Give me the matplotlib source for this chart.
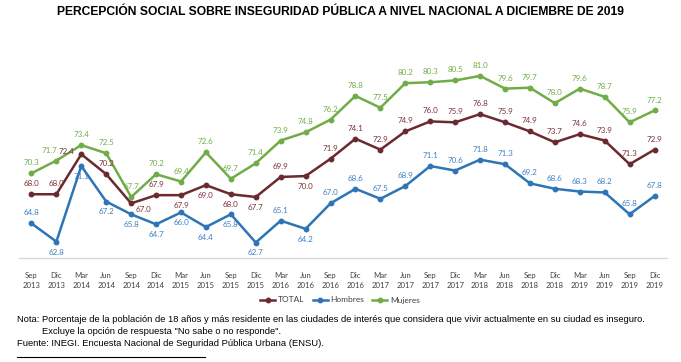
import matplotlib.pyplot as plt
from matplotlib.lines import Line2D

SANS = "Liberation Sans"
LABF = "Lato"

periodos = ["Sep\n2013", "Dic\n2013", "Mar\n2014", "Jun\n2014", "Sep\n2014", "Dic\n2014",
            "Mar\n2015", "Jun\n2015", "Sep\n2015", "Dic\n2015", "Mar\n2016", "Jun\n2016",
            "Sep\n2016", "Dic\n2016", "Mar\n2017", "Jun\n2017", "Sep\n2017", "Dic\n2017",
            "Mar\n2018", "Jun\n2018", "Sep\n2018", "Dic\n2018", "Mar\n2019", "Jun\n2019",
            "Sep\n2019", "Dic\n2019"]
total = [68.0, 68.0, 72.4, 70.2, 67.0, 67.9, 67.9, 69.0, 68.0, 67.7, 69.9, 70.0, 71.9,
         74.1, 72.9, 74.9, 76.0, 75.9, 76.8, 75.9, 74.9, 73.7, 74.6, 73.9, 71.3, 72.9]
hombres = [64.8, 62.8, 71.1, 67.2, 65.8, 64.7, 66.0, 64.4, 65.8, 62.7, 65.1, 64.2, 67.0,
           68.6, 67.5, 68.9, 71.1, 70.6, 71.8, 71.3, 69.2, 68.6, 68.3, 68.2, 65.8, 67.8]
mujeres = [70.3, 71.7, 73.4, 72.5, 67.7, 70.2, 69.4, 72.6, 69.7, 71.4, 73.9, 74.8, 76.2,
           78.8, 77.5, 80.2, 80.3, 80.5, 81.0, 79.6, 79.7, 78.0, 79.6, 78.7, 75.9, 77.2]

# label placement: a=above, A=above shifted left, b=below, l=left, d=below right
pos_total = list("aaladabbbbabaaaaaaaaaaaaaa")
pos_hombres = list("abbbbbbbbbabaaaaaaaaaaaaaa")
pos_mujeres = list("aAaaaaaaaaaaaaaaaaaaaaaaaa")

series = [
    ("TOTAL", total, "#6B2A2E", "#7A3236", pos_total),
    ("Hombres", hombres, "#2E75B6", "#3E80C6", pos_hombres),
    ("Mujeres", mujeres, "#70AD47", "#70AD47", pos_mujeres),
]

offs = {"a": (0, 5, "center", "bottom"), "A": (-5, 5, "center", "bottom"),
        "b": (0, -5, "center", "top"), "l": (-5, 2, "right", "center"),
        "d": (3, -2, "left", "top")}

fig = plt.figure(figsize=(6.81, 3.62), dpi=100)
ax = fig.add_axes([19 / 681, 104 / 362, 648 / 681, 214 / 362])
x = list(range(len(periodos)))

for name, vals, col, lcol, pos in series:
    ax.plot(x, vals, color=col, lw=1.8, marker="o", ms=3.2, label=name)
    for xi, v, p in zip(x, vals, pos):
        dx, dy, ha, va = offs[p]
        ax.annotate(f"{v:.1f}", (xi, v), xytext=(dx, dy), textcoords="offset points",
                    ha=ha, va=va, fontsize=5.8, color=lcol, family=LABF)

ax.set_xlim(-0.5, 25.5)
ax.set_ylim(61, 84.5)
ax.set_yticks([])
ax.set_xticks(x)
ax.set_xticklabels(periodos, fontsize=5.6, family=LABF, color="#404040", linespacing=1.5)
ax.tick_params(axis="x", length=0, pad=10)
for s in ["top", "left", "right"]:
    ax.spines[s].set_visible(False)
ax.spines["bottom"].set_color("#D9D9D9")
ax.spines["bottom"].set_linewidth(1.0)

fig.legend(loc="center", bbox_to_anchor=(340 / 681, 1 - 300 / 362), ncol=3, frameon=False,
           prop={"family": LABF, "size": 6.0}, handlelength=1.8, handletextpad=0.3,
           columnspacing=1.0, labelcolor="#404040")

fig.text(0.5, 1 - 12 / 362, "PERCEPCIÓN SOCIAL SOBRE INSEGURIDAD PÚBLICA A NIVEL NACIONAL A DICIEMBRE DE 2019",
         ha="center", va="center", fontsize=8.7, fontweight="bold", family=SANS)

fig.text(17 / 681, 1 - 319 / 362,
         "Nota: Porcentaje de la población de 18 años y más residente en las ciudades de interés que considera que vivir actualmente en su ciudad es inseguro.",
         ha="left", va="center", fontsize=6.75, family=SANS)
fig.text(42 / 681, 1 - 331 / 362, "Excluye la opción de respuesta \"No sabe o no responde\".",
         ha="left", va="center", fontsize=6.75, family=SANS)
fig.text(17 / 681, 1 - 343 / 362, "Fuente: INEGI. Encuesta Nacional de Seguridad Pública Urbana (ENSU).",
         ha="left", va="center", fontsize=6.75, family=SANS)
fig.add_artist(Line2D([17 / 681, 205 / 681], [1 - 357 / 362] * 2, color="black", lw=0.8))

fig.savefig("out.png", dpi=100)
